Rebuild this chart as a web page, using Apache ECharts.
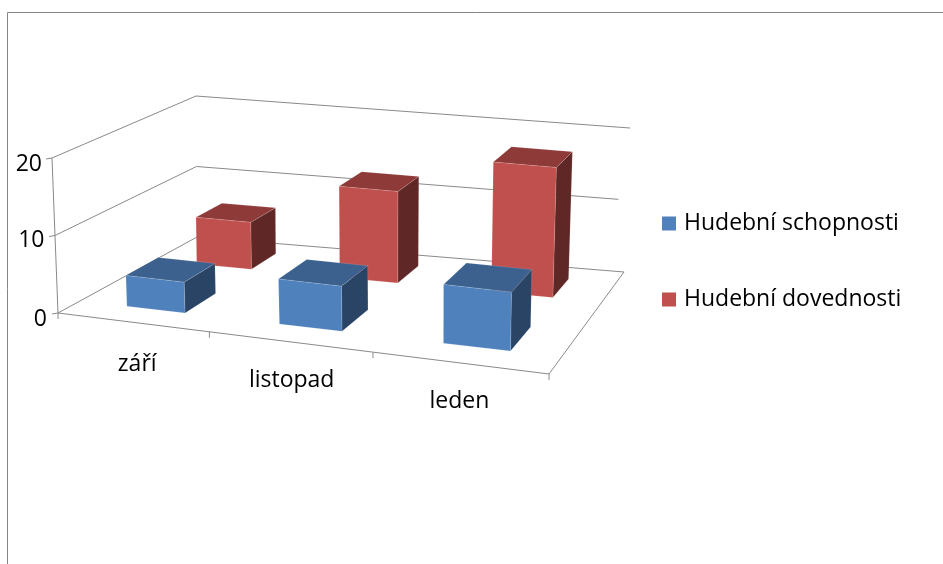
<!DOCTYPE html>
<html><head><meta charset="utf-8">
<style>html,body{margin:0;padding:0;background:#fff}#c{width:943px;height:564px}</style>
<script src="https://cdn.jsdelivr.net/npm/echarts@6/dist/echarts.min.js"></script>
</head><body><div id="c"></div>
<script>
const categories = ['září', 'listopad', 'leden'];
const seriesNames = ['Hudební schopnosti', 'Hudební dovednosti'];
const schopnosti = [4, 5.8, 7.5];
const dovednosti = [6.4, 12.4, 17.5];
const yTicks = [0, 10, 20];
const yMax = 20;

// perspective frame: corners front-left, front-right, back-right, back-left
const floorQuad = [[58,313],[549,374],[624,272],[197,237]];
const topQuad = [[52,158],[553,214],[630,128],[196,96]];
const lineColor = '#8a8a8a';
const font = '"Open Sans"';
const fontSize = 23;
const barU = 0.13;
const uWarp = 0.1;
const depthBands = [[0.14,0.36],[0.66,0.87]];
const uShift = [0.005, 0];
const labelNudge = [[3,4],[0,1],[-2,1]];
const faces = [
  {front:'#4F81BD', top:'#3C618F', side:'#2A4465'},
  {front:'#C0504D', top:'#8E3A38', side:'#5F2725'}
];

function homography(q){
  const [p0,p1,p2,p3]=q;
  const sx=p0[0]-p1[0]+p2[0]-p3[0], sy=p0[1]-p1[1]+p2[1]-p3[1];
  const dx1=p1[0]-p2[0], dx2=p3[0]-p2[0], dy1=p1[1]-p2[1], dy2=p3[1]-p2[1];
  const den=dx1*dy2-dx2*dy1;
  const g=(sx*dy2-dx2*sy)/den, h=(dx1*sy-sx*dy1)/den;
  const a=p1[0]-p0[0]+g*p1[0], b=p3[0]-p0[0]+h*p3[0], c=p0[0];
  const d=p1[1]-p0[1]+g*p1[1], e=p3[1]-p0[1]+h*p3[1], f=p0[1];
  return (u,v)=>{const w=g*u+h*v+1;return [(a*u+b*v+c)/w,(d*u+e*v+f)/w];};
}
const floorH=homography(floorQuad), topH=homography(topQuad);
function project(u0,v,val){
  const u=u0+uWarp*u0*(1-u0);
  const p=floorH(u,v), q=topH(u,v), t=val/yMax;
  return [p[0]+(q[0]-p[0])*t, p[1]+(q[1]-p[1])*t];
}
function seg(a,b,w){return {type:'line',shape:{x1:a[0],y1:a[1],x2:b[0],y2:b[1]},style:{stroke:lineColor,lineWidth:w||1}};}
function label(text,x,y,align){return {type:'text',style:{text:String(text),x:x,y:y,align:align,verticalAlign:'middle',font:fontSize+'px '+font,fill:'#000'}};}

function renderFrame(params,api){
  if(params.dataIndex!==0) return null;
  const kids=[];
  kids.push(seg(project(0,0,0),project(1,0,0)));
  kids.push(seg(project(1,0,0),project(1,1,0)));
  kids.push(seg(project(1,1,0),project(0,1,0)));
  kids.push(seg(project(0,1,0),project(0,0,0)));
  kids.push(seg(project(0,0,0),project(0,0,yMax)));
  yTicks.forEach(t=>{
    const a=project(0,0,t);
    kids.push(seg(a,[a[0]-6,a[1]+1]));
    if(t>0){
      const b=project(0,1,t), c=project(1,1,t);
      kids.push(seg(a,b));
      kids.push(seg(b, t===yMax?c:[b[0]+(c[0]-b[0])*0.98,b[1]+(c[1]-b[1])*0.98]));
    }
    kids.push(label(t,a[0]-11+(t/yMax)*1,a[1]+(t===10?5:6),'right'));
  });
  for(let i=0;i<=categories.length;i++){
    const a=project(i/categories.length,0,0);
    kids.push(seg(a,[a[0],a[1]+6]));
  }
  categories.forEach((c,i)=>{
    const a=project((i+0.5)/categories.length,0,0);
    kids.push(label(c,a[0]+2+labelNudge[i][0],a[1]+38+labelNudge[i][1],'center'));
  });
  return {type:'group',children:kids};
}
function renderBar(j){
  return function(params,api){
    const cs=params.coordSys;
    const pt=api.coord([api.value(0),api.value(1)]);
    const u=(pt[0]-cs.x)/cs.width+uShift[j];
    const val=(cs.y+cs.height-pt[1])/cs.height*yMax;
    const u0=u-barU/2,u1=u+barU/2;
    const [v0,v1]=depthBands[j];
    const P=(a,b,h)=>project(a,b,h);
    const f=faces[j];
    const edge='rgba(255,255,255,0.22)';
    const poly=(pts,c)=>({type:'polygon',shape:{points:pts},style:{fill:c,stroke:edge,lineWidth:0.6}});
    return {type:'group',children:[
      poly([P(u1,v0,0),P(u1,v1,0),P(u1,v1,val),P(u1,v0,val)],f.side),
      poly([P(u0,v0,val),P(u1,v0,val),P(u1,v1,val),P(u0,v1,val)],f.top),
      poly([P(u0,v0,0),P(u1,v0,0),P(u1,v0,val),P(u0,v0,val)],f.front)
    ]};
  };
}
const chart=echarts.init(document.getElementById('c'),null,{renderer:'canvas'});
chart.setOption({
  animation:false,
  backgroundColor:'#fff',
  grid:{left:floorQuad[0][0],top:topQuad[0][1],width:floorQuad[1][0]-floorQuad[0][0],height:floorQuad[0][1]-topQuad[0][1]},
  xAxis:{type:'category',data:categories,show:false},
  yAxis:{type:'value',min:0,max:yMax,interval:10,show:false},
  legend:{orient:'vertical',left:662,top:212,padding:0,itemWidth:14,itemHeight:14,itemGap:53,itemStyle:{borderWidth:0},
    icon:'rect',data:seriesNames,textStyle:{fontFamily:'Open Sans',fontSize:fontSize,color:'#000',padding:[0,0,0,3]}},
  graphic:[
    {type:'line',silent:true,shape:{x1:7.5,y1:12.5,x2:943,y2:12.5},style:{stroke:'#868686',lineWidth:1}},
    {type:'line',silent:true,shape:{x1:7.5,y1:12.5,x2:7.5,y2:564},style:{stroke:'#868686',lineWidth:1}}
  ],
  series:[
    {type:'custom',name:'frame',silent:true,clip:false,z:1,data:[[0,0]],renderItem:renderFrame},
    {type:'custom',name:seriesNames[1],silent:true,clip:false,z:2,itemStyle:{color:faces[1].front},
      data:dovednosti.map((v,i)=>[i,v]),renderItem:renderBar(1)},
    {type:'custom',name:seriesNames[0],silent:true,clip:false,z:3,itemStyle:{color:faces[0].front},
      data:schopnosti.map((v,i)=>[i,v]),renderItem:renderBar(0)}
  ]
});
</script></body></html>
